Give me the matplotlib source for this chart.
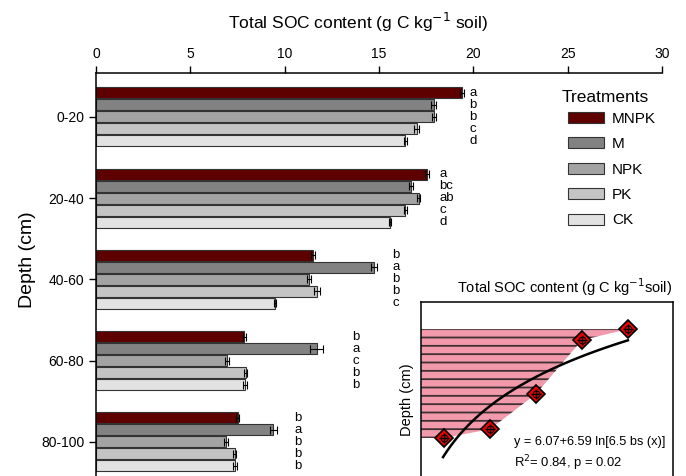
import numpy as np
import matplotlib
matplotlib.use('Agg')
import matplotlib.pyplot as plt
from matplotlib.patches import Patch

plt.rcParams['font.family'] = ['Liberation Sans', 'DejaVu Sans']
plt.rcParams['hatch.linewidth'] = 1.3

# ------------------------------
# Data
# ------------------------------
depths = ['0-20', '20-40', '40-60', '60-80', '80-100']
treatments = ['MNPK', 'M', 'NPK', 'PK', 'CK']
colors = ['#5e0000', '#828282', '#a3a3a3', '#c4c4c4', '#e2e2e2']

soc = {
    'MNPK': [19.4, 17.55, 11.5, 7.85, 7.5],
    'M':    [17.9, 16.7, 14.75, 11.7, 9.4],
    'NPK':  [17.9, 17.1, 11.3, 6.95, 6.9],
    'PK':   [17.0, 16.4, 11.7, 7.95, 7.35],
    'CK':   [16.4, 15.6, 9.5, 7.9, 7.35],
}
soc_err = {
    'MNPK': [0.12, 0.1, 0.1, 0.08, 0.1],
    'M':    [0.12, 0.12, 0.15, 0.35, 0.2],
    'NPK':  [0.1, 0.08, 0.12, 0.1, 0.1],
    'PK':   [0.12, 0.1, 0.15, 0.08, 0.08],
    'CK':   [0.1, 0.05, 0.05, 0.1, 0.1],
}
letters = [['a', 'b', 'b', 'c', 'd'],
           ['a', 'bc', 'ab', 'c', 'd'],
           ['b', 'a', 'b', 'b', 'c'],
           ['b', 'a', 'c', 'b', 'b'],
           ['b', 'a', 'b', 'b', 'b']]
letter_x = [19.8, 18.2, 15.7, 13.6, 10.5]

# inset: mean SOC per layer (deepest layer on the left)
inset_x = [1, 2, 3, 4, 5]
inset_soc = [7.7, 8.5, 11.75, 16.7, 17.7]
fit_a, fit_b = 6.07, 6.59

# ------------------------------
# Figure
# ------------------------------
W, H = 686, 476
fig = plt.figure(figsize=(W / 100, H / 100), dpi=100)
ax = fig.add_axes([96 / W, 0, (662 - 96) / W, (476 - 73) / H])

pitch = 0.148
bar_h = 0.135
for j, t in enumerate(treatments):
    ypos = np.arange(len(depths)) + (j - 2) * pitch
    ax.barh(ypos, soc[t], height=bar_h, color=colors[j], edgecolor='#333333',
            linewidth=0.8, xerr=soc_err[t],
            error_kw=dict(ecolor='black', elinewidth=0.8, capsize=3, capthick=0.8))

for g in range(len(depths)):
    for j in range(len(treatments)):
        ax.text(letter_x[g], g + (j - 2) * pitch, letters[g][j], fontsize=9.5,
                ha='left', va='center')

ax.set_xlim(0, 30)
ax.set_ylim(4.42, -0.54)
ax.set_xticks(np.arange(0, 31, 5))
ax.xaxis.tick_top()
ax.set_yticks(range(len(depths)))
ax.set_yticklabels(depths)
ax.tick_params(axis='both', labelsize=10, length=5, width=1, direction='out')
ax.spines['right'].set_visible(False)
ax.spines['bottom'].set_visible(False)
for s in ['top', 'left']:
    ax.spines[s].set_linewidth(1.1)

fig.text(358 / W, 1 - 22 / H, 'Total SOC content (g C kg$^{-1}$ soil)',
         fontsize=12.5, ha='center', va='center')
fig.text(28 / W, 1 - 260 / H, 'Depth (cm)', fontsize=14, rotation=90,
         ha='center', va='center')

# legend (title drawn separately to control the gap)
fig.text(562 / W, 1 - 97 / H, 'Treatments', fontsize=12.5, ha='left', va='center')
handles = [Patch(facecolor=c, edgecolor='#333333', linewidth=0.8) for c in colors]
leg = fig.legend(handles, treatments, loc='upper left',
                 bbox_to_anchor=(560 / W, 1 - 104 / H), frameon=False,
                 fontsize=11, handlelength=2.4, handleheight=0.75,
                 labelspacing=0.75, handletextpad=0.5, borderpad=0)

# ------------------------------
# Inset
# ------------------------------
ax2 = fig.add_axes([421 / W, 0, (673 - 421) / W, (476 - 302) / H])
xf = [0.5] + inset_x
yf = [inset_soc[0]] + inset_soc
ax2.fill_between(xf, yf, inset_soc[-1], facecolor='#f29aab', edgecolor='#3f3034',
                 hatch='--', linewidth=0)
xc = np.linspace(0.98, 5, 100)
ax2.plot(xc, fit_a + fit_b * np.log(xc), color='black', lw=1.8)
ax2.plot(inset_x, inset_soc, 'D', ms=9, mfc='#ee0000', mec='black', mew=1.2)
ax2.plot(inset_x, inset_soc, 'o', ms=5, mfc='none', mec='black', mew=0.8)
ax2.plot(inset_x, inset_soc, '+', ms=7, color='black', mew=1)
ax2.set_xlim(0.5, 5.98)
ax2.set_ylim(4.2, 20.2)
ax2.set_xticks([])
ax2.set_yticks([])
ax2.spines['bottom'].set_visible(False)
for s in ['top', 'left', 'right']:
    ax2.spines[s].set_linewidth(1.1)

ax2.text(0.571, 1 + 15 / 174, 'Total SOC content (g C kg$^{-1}$soil)', fontsize=10.5,
         ha='center', va='center', transform=ax2.transAxes)
ax2.text(-0.056, 0.437, 'Depth (cm)', fontsize=10.5, rotation=90,
         ha='center', va='center', transform=ax2.transAxes)
ax2.text(0.369, 0.197, 'y = 6.07+6.59 ln[6.5 bs (x)]', fontsize=9.2,
         ha='left', va='center', transform=ax2.transAxes)
ax2.text(0.369, 0.076, 'R$^2$= 0.84, p = 0.02', fontsize=9.4,
         ha='left', va='center', transform=ax2.transAxes)

fig.savefig('out.png', dpi=100)
